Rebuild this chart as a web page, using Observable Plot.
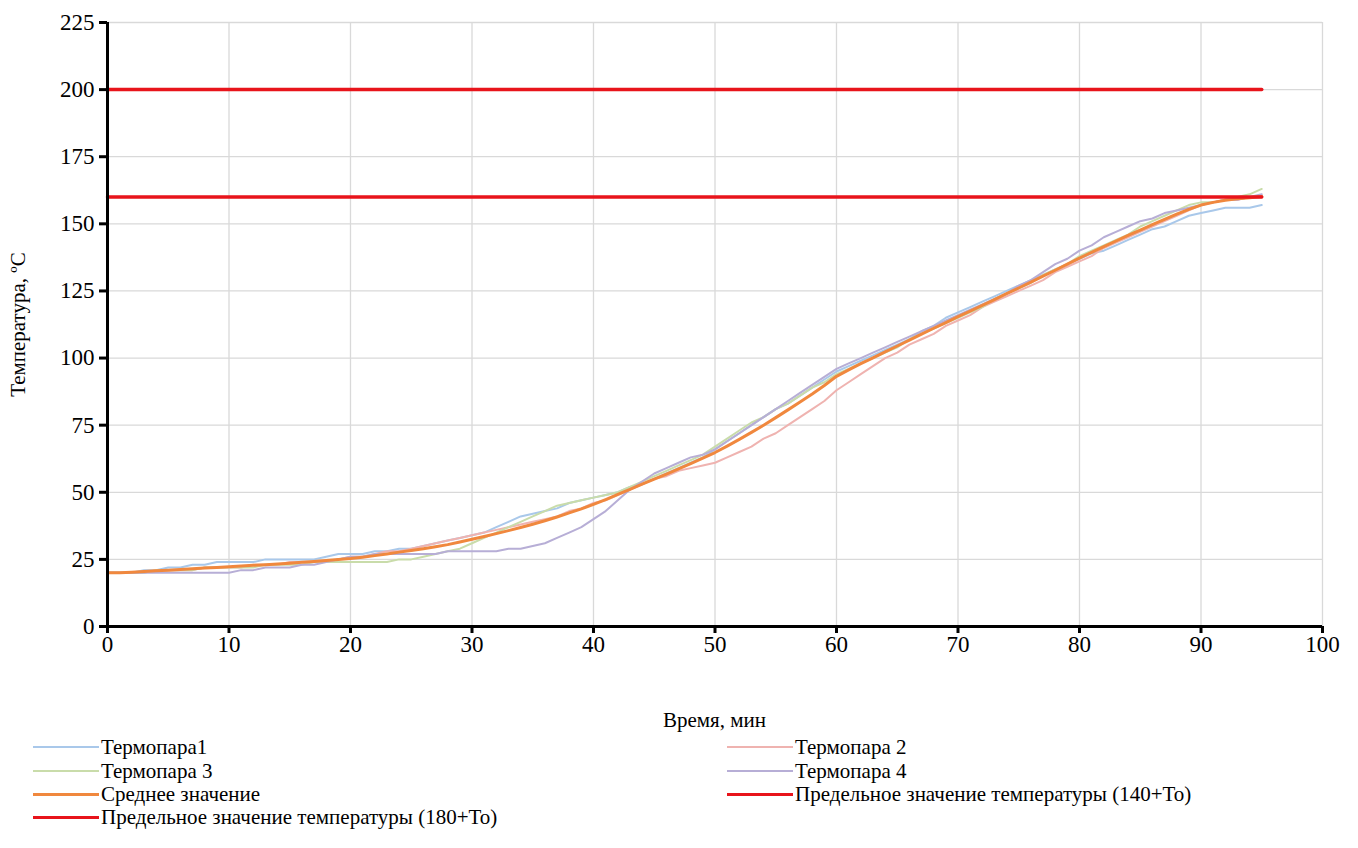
<!DOCTYPE html>
<html>
<head>
<meta charset="utf-8">
<script src="https://cdn.jsdelivr.net/npm/d3@7"></script>
<script src="https://cdn.jsdelivr.net/npm/@observablehq/plot@0.6"></script>
<style>
  html, body { margin: 0; padding: 0; background: #fff; font-family: 'Liberation Serif', serif; }
  #wrap { position: relative; width: 1358px; height: 848px; color: #000; }
  #chart { position: absolute; left: 0; top: 0; }
  .xlabel { position: absolute; top: 707px; left: 0; width: 1429px; text-align: center; font-size: 21px; line-height: 26px; }
  .leg { position: absolute; font-size: 21px; line-height: 24px; white-space: nowrap; }
  .sw { display: inline-block; width: 66px; vertical-align: middle; margin-right: 2px; position: relative; top: -2px; }
</style>
</head>
<body>
<div id="wrap">
  <div id="chart"></div>
  <div class="xlabel">Время, мин</div>
  <div id="legend"></div>
</div>
<script>
// Time, min
const time = [0,1,2,3,4,5,6,7,8,9,10,11,12,13,14,15,16,17,18,19,20,21,22,23,24,25,26,27,28,29,30,31,32,33,34,35,36,37,38,39,40,41,42,43,44,45,46,47,48,49,50,51,52,53,54,55,56,57,58,59,60,61,62,63,64,65,66,67,68,69,70,71,72,73,74,75,76,77,78,79,80,81,82,83,84,85,86,87,88,89,90,91,92,93,94,95];

// Термопара1
const t1 = [20,20,20,21,21,22,22,23,23,24,24,24,24,25,25,25,25,25,26,27,27,27,28,28,29,29,30,31,32,33,34,35,37,39,41,42,43,44,46,47,48,49,50,52,53,55,57,59,61,63,66,69,72,75,78,81,83,86,89,92,95,97,99,101,103,105,107,110,112,115,117,119,121,123,125,127,129,131,133,135,137,139,140,142,144,146,148,149,151,153,154,155,156,156,156,157];
// Термопара 2
const t2 = [20,20,20,20,21,21,21,21,22,22,22,22,23,23,23,24,24,24,24,25,26,26,27,28,28,29,30,31,32,33,34,35,36,37,38,39,40,41,43,44,46,47,49,51,53,55,56,58,59,60,61,63,65,67,70,72,75,78,81,84,88,91,94,97,100,102,105,107,109,112,114,116,119,121,123,125,127,129,132,134,136,138,141,143,145,147,149,151,153,155,157,158,159,159,160,160];
// Термопара 3
const t3 = [20,20,20,20,21,21,21,21,22,22,22,22,22,23,23,23,23,24,24,24,24,24,24,24,25,25,26,27,28,29,31,33,35,37,39,41,43,45,46,47,48,49,50,52,54,56,58,60,62,64,67,70,73,76,78,81,83,86,89,91,94,96,98,100,102,104,107,109,111,113,115,117,119,122,124,126,128,131,133,135,138,140,142,144,146,149,151,153,155,157,158,158,159,160,161,163];
// Термопара 4
const t4 = [20,20,20,20,20,20,20,20,20,20,20,21,21,22,22,22,23,23,24,25,26,26,27,27,27,27,27,27,28,28,28,28,28,29,29,30,31,33,35,37,40,43,47,51,54,57,59,61,63,64,66,69,72,75,78,81,84,87,90,93,96,98,100,102,104,106,108,110,112,114,116,118,120,122,124,127,129,132,135,137,140,142,145,147,149,151,152,154,155,156,157,158,159,159,160,161];
// Среднее значение
const avg = [20,20,20.2,20.5,20.8,21,21.2,21.5,21.8,22,22.3,22.5,22.8,23,23.3,23.6,23.9,24.2,24.6,25,25.3,25.8,26.4,27,27.7,28.3,29,29.7,30.5,31.5,32.5,33.5,34.6,35.7,36.9,38.1,39.4,40.8,42.3,43.8,45.5,47.3,49.2,51.1,53,54.9,56.8,58.7,60.7,62.7,64.8,67.2,69.7,72.3,75,77.8,80.7,83.6,86.6,89.8,93.2,95.6,97.9,100.1,102.3,104.5,106.7,108.9,111.1,113.2,115.4,117.5,119.6,121.8,124,126.1,128.3,130.5,132.7,135,137.2,139.4,141.5,143.6,145.7,147.7,149.7,151.7,153.6,155.4,157,158,158.8,159.3,159.7,160.2];

// Предельные значения
const limitTime = [0, 95];
const limit140 = [160, 160];
const limit180 = [200, 200];

const xTicks = [0,10,20,30,40,50,60,70,80,90,100];
const yTicks = [0,25,50,75,100,125,150,175,200,225];

const seriesNames = ["Термопара1","Термопара 2","Термопара 3","Термопара 4","Среднее значение","Предельное значение температуры (140+To)","Предельное значение температуры (180+To)"];
const seriesColors = ["#a9c8ea","#efb3b0","#c9dcaa","#b7aed6","#f0883e","#e8141b","#e8141b"];
const seriesWidths = [2,2,2,2,3,3.5,3.5];
const seriesValues = [t1,t2,t3,t4,avg];

const FONT = "'Liberation Serif', serif";
const W = 1358, H = 665;
const marks = [
  Plot.gridX(xTicks, {stroke: "#d9d9d9", strokeOpacity: 1, strokeWidth: 1.3}),
  Plot.gridY(yTicks, {stroke: "#d9d9d9", strokeOpacity: 1, strokeWidth: 1.3}),
];
seriesValues.forEach((vals, k) => {
  marks.push(Plot.line(vals, {x: (d, i) => time[i], y: d => d, stroke: seriesColors[k], strokeWidth: seriesWidths[k], curve: "linear"}));
});
marks.push(Plot.line(limit140, {x: (d, i) => limitTime[i], y: d => d, stroke: seriesColors[5], strokeWidth: seriesWidths[5]}));
marks.push(Plot.line(limit180, {x: (d, i) => limitTime[i], y: d => d, stroke: seriesColors[6], strokeWidth: seriesWidths[6]}));
marks.push(Plot.axisX(xTicks, {tickSize: 7, tickPadding: 2, strokeWidth: 3, fontSize: 23, fontFamily: FONT, label: null}));
marks.push(Plot.axisY(yTicks, {tickSize: 8, tickPadding: 5, strokeWidth: 3, fontSize: 23, fontFamily: FONT, label: null}));
marks.push(Plot.ruleX([0], {stroke: "#000", strokeWidth: 3}));
marks.push(Plot.ruleY([0], {stroke: "#000", strokeWidth: 3}));
marks.push(Plot.text(["Температура, ºС"], {frameAnchor: "left", textAnchor: "middle", rotate: -90, dx: -89, fontSize: 21, fontFamily: FONT}));

const chart = Plot.plot({
  width: W, height: H,
  marginLeft: 107, marginRight: 36, marginTop: 22, marginBottom: H - 626,
  x: {domain: [0, 100]},
  y: {domain: [0, 225]},
  style: {fontFamily: FONT, fontSize: "22px", color: "#000", background: "#fff"},
  marks
});
document.getElementById("chart").appendChild(chart);

// Legend
const legPos = [
  {left: 33, top: 735}, {left: 727, top: 735},
  {left: 33, top: 759}, {left: 727, top: 759},
  {left: 33, top: 782}, {left: 727, top: 782},
  {left: 33, top: 805}
];
const legend = document.getElementById("legend");
seriesNames.forEach((name, k) => {
  const d = document.createElement("div");
  d.className = "leg";
  d.style.left = legPos[k].left + "px";
  d.style.top = legPos[k].top + "px";
  const sw = document.createElement("span");
  sw.className = "sw";
  sw.style.borderTop = seriesWidths[k] + "px solid " + seriesColors[k];
  d.appendChild(sw);
  d.appendChild(document.createTextNode(name));
  legend.appendChild(d);
});
</script>
</body>
</html>
